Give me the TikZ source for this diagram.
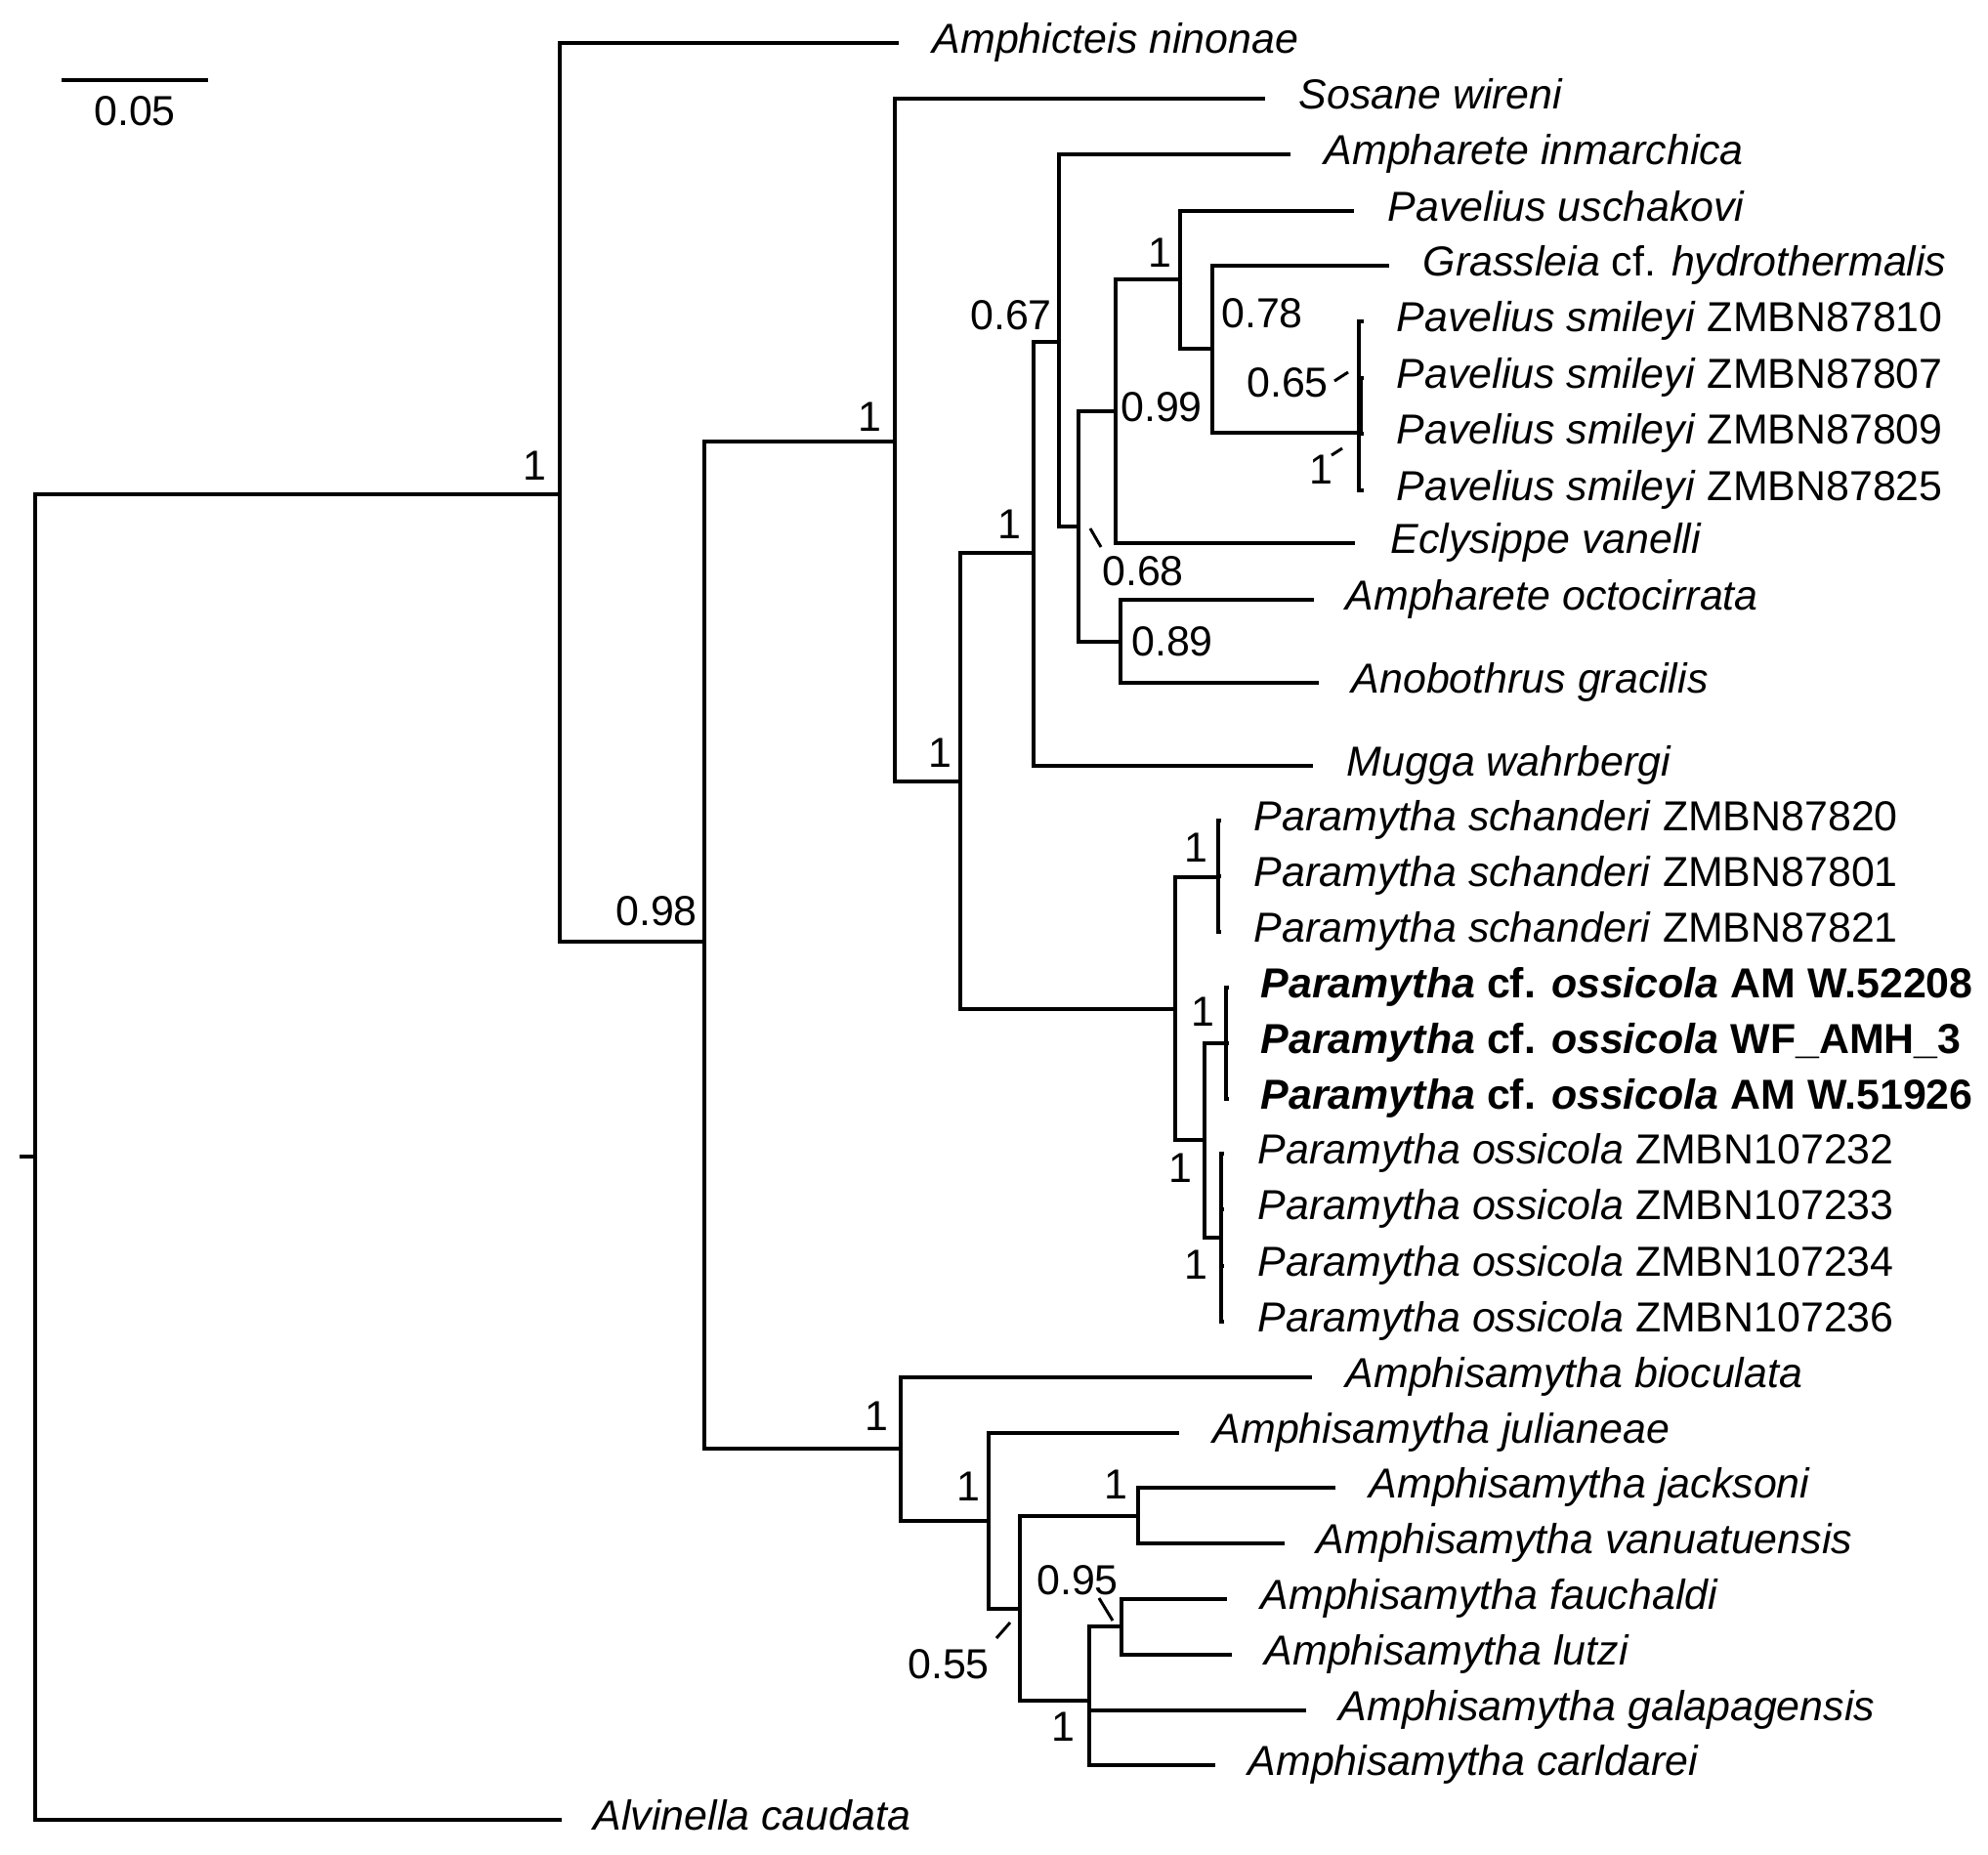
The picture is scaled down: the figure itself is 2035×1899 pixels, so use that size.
\documentclass[tikz,border=0pt]{standalone}
\usepackage{fontspec}
\setmainfont{Liberation Sans}
\usetikzlibrary{positioning,calc}
\tikzset{
  branch/.style={line width=0.9pt},
  taxon/.style={inner sep=0pt, font=\fontsize{12.2}{14}\selectfont,
    text height=8.7pt, text depth=2.6pt},
  supp/.style={inner sep=0pt, font=\fontsize{12.2}{14}\selectfont},
  tick/.style={line width=0.85pt}
}
\begin{document}
\begin{tikzpicture}[x=0.01cm, y=-0.01cm, node distance=3.4mm]
\useasboundingbox (0,0) rectangle (2035,1899);

% scale bar
\coordinate (sb1) at (63,82);
\coordinate (sb2) at (213,82);
\draw[branch] (sb1) -- (sb2);
\node[supp] (sbl) at (138,114) {0.05};

% internal nodes
\coordinate (stub) at (20,1184);
\coordinate (nR) at (36,1184);
\coordinate (A) at (573,506);
\coordinate (C) at (721,964);
\coordinate (B) at (916,452);
\coordinate (F) at (983,800);
\coordinate (E) at (1058,566);
\coordinate (D) at (1084,350);
\coordinate (G) at (1104,539);
\coordinate (H) at (1142,421);
\coordinate (I) at (1208,286);
\coordinate (J) at (1241,357);
\coordinate (K) at (1391,443);
\coordinate (L) at (1393,415);
\coordinate (X) at (1147,657);
\coordinate (M) at (1203,1033);
\coordinate (N) at (1247,898);
\coordinate (O) at (1233,1167);
\coordinate (P) at (1255,1068);
\coordinate (Q) at (1250,1267);
\coordinate (R) at (922,1483);
\coordinate (S) at (1012,1557);
\coordinate (T) at (1044,1647);
\coordinate (U) at (1165,1552);
\coordinate (V) at (1115,1741);
\coordinate (W) at (1148,1665);

% tips
\coordinate (tAmphic) at (920,44);
\coordinate (tSosane) at (1295,101);
\coordinate (tAmpInm) at (1321,158);
\coordinate (tPavUsc) at (1386,216);
\coordinate (tGrass) at (1422,272);
\coordinate (tSm1) at (1396,329);
\coordinate (tSm2) at (1396,387);
\coordinate (tSm3) at (1396,444);
\coordinate (tSm4) at (1396,502);
\coordinate (tEcly) at (1387,556);
\coordinate (tOcto) at (1345,614);
\coordinate (tAnob) at (1350,699);
\coordinate (tMugga) at (1344,784);
\coordinate (tSch1) at (1250,840);
\coordinate (tSch2) at (1250,897);
\coordinate (tSch3) at (1250,954);
\coordinate (tCf1) at (1258,1011);
\coordinate (tCf2) at (1258,1068);
\coordinate (tCf3) at (1258,1125);
\coordinate (tOss1) at (1253,1181);
\coordinate (tOss2) at (1253,1238);
\coordinate (tOss3) at (1253,1296);
\coordinate (tOss4) at (1253,1353);
\coordinate (tBio) at (1343,1410);
\coordinate (tJul) at (1207,1467);
\coordinate (tJack) at (1367,1523);
\coordinate (tVanu) at (1315,1580);
\coordinate (tFauch) at (1256,1637);
\coordinate (tLutzi) at (1261,1694);
\coordinate (tGalap) at (1337,1751);
\coordinate (tCarld) at (1244,1807);
\coordinate (tAlv) at (575,1863);

% branches
\draw[branch] (stub) -- (nR);
\draw[branch] (nR) |- (A) (nR) |- (tAlv);
\draw[branch] (A) |- (tAmphic) (A) |- (C);
\draw[branch] (C) |- (B) (C) |- (R);
\draw[branch] (B) |- (tSosane) (B) |- (F);
\draw[branch] (F) |- (E) (F) |- (M);
\draw[branch] (E) |- (D) (E) |- (tMugga);
\draw[branch] (D) |- (tAmpInm) (D) |- (G);
\draw[branch] (G) |- (H) (G) |- (X);
\draw[branch] (H) |- (I) (H) |- (tEcly);
\draw[branch] (I) |- (tPavUsc) (I) |- (J);
\draw[branch] (J) |- (tGrass) (J) |- (K);
\draw[branch] (K) |- (tSm1) (K) |- (tSm4);
\draw[branch] (L) |- (tSm2) (L) |- (tSm3);
\draw[branch] (X) |- (tOcto) (X) |- (tAnob);
\draw[branch] (M) |- (N) (M) |- (O);
\draw[branch] (N) |- (tSch1) (N) |- (tSch2) (N) |- (tSch3);
\draw[branch] (O) |- (P) (O) |- (Q);
\draw[branch] (P) |- (tCf1) (P) |- (tCf2) (P) |- (tCf3);
\draw[branch] (Q) |- (tOss1) (Q) |- (tOss2) (Q) |- (tOss3) (Q) |- (tOss4);
\draw[branch] (R) |- (tBio) (R) |- (S);
\draw[branch] (S) |- (tJul) (S) |- (T);
\draw[branch] (T) |- (U) (T) |- (V);
\draw[branch] (U) |- (tJack) (U) |- (tVanu);
\draw[branch] (V) |- (W) (V) |- (tGalap) (V) |- (tCarld);
\draw[branch] (W) |- (tFauch) (W) |- (tLutzi);

% taxon labels
\node[taxon, right=of tAmphic] (lAmphic) {\textit{Amphicteis ninonae}};
\node[taxon, right=of tSosane] (lSosane) {\textit{Sosane wireni}};
\node[taxon, right=of tAmpInm] (lAmpInm) {\textit{Ampharete inmarchica}};
\node[taxon, right=of tPavUsc] (lPavUsc) {\textit{Pavelius uschakovi}};
\node[taxon, right=of tGrass] (lGrass) {\textit{Grassleia} cf. \textit{hydrothermalis}};
\node[taxon, right=3.3mm of tSm1] (lSm1) {\textit{Pavelius smileyi} ZMBN87810};
\node[taxon, right=3.3mm of tSm2] (lSm2) {\textit{Pavelius smileyi} ZMBN87807};
\node[taxon, right=3.3mm of tSm3] (lSm3) {\textit{Pavelius smileyi} ZMBN87809};
\node[taxon, right=3.3mm of tSm4] (lSm4) {\textit{Pavelius smileyi} ZMBN87825};
\node[taxon, right=3.6mm of tEcly] (lEcly) {\textit{Eclysippe vanelli}};
\node[taxon, right=3.2mm of tOcto] (lOcto) {\textit{Ampharete octocirrata}};
\node[taxon, right=3.3mm of tAnob] (lAnob) {\textit{Anobothrus gracilis}};
\node[taxon, right=of tMugga] (lMugga) {\textit{Mugga wahrbergi}};
\node[taxon, right=3.3mm of tSch1] (lSch1) {\textit{Paramytha schanderi} ZMBN87820};
\node[taxon, right=3.3mm of tSch2] (lSch2) {\textit{Paramytha schanderi} ZMBN87801};
\node[taxon, right=3.3mm of tSch3] (lSch3) {\textit{Paramytha schanderi} ZMBN87821};
\node[taxon, right=3.2mm of tCf1] (lCf1) {\bfseries\textit{Paramytha} cf. \textit{ossicola} AM W.52208};
\node[taxon, right=3.2mm of tCf2] (lCf2) {\bfseries\textit{Paramytha} cf. \textit{ossicola} WF\_AMH\_3};
\node[taxon, right=3.2mm of tCf3] (lCf3) {\bfseries\textit{Paramytha} cf. \textit{ossicola} AM W.51926};
\node[taxon, right=of tOss1] (lOss1) {\textit{Paramytha ossicola} ZMBN107232};
\node[taxon, right=of tOss2] (lOss2) {\textit{Paramytha ossicola} ZMBN107233};
\node[taxon, right=of tOss3] (lOss3) {\textit{Paramytha ossicola} ZMBN107234};
\node[taxon, right=of tOss4] (lOss4) {\textit{Paramytha ossicola} ZMBN107236};
\node[taxon, right=of tBio] (lBio) {\textit{Amphisamytha bioculata}};
\node[taxon, right=of tJul] (lJul) {\textit{Amphisamytha julianeae}};
\node[taxon, right=of tJack] (lJack) {\textit{Amphisamytha jacksoni}};
\node[taxon, right=3.2mm of tVanu] (lVanu) {\textit{Amphisamytha vanuatuensis}};
\node[taxon, right=of tFauch] (lFauch) {\textit{Amphisamytha fauchaldi}};
\node[taxon, right=3.3mm of tLutzi] (lLutzi) {\textit{Amphisamytha lutzi}};
\node[taxon, right=3.3mm of tGalap] (lGalap) {\textit{Amphisamytha galapagensis}};
\node[taxon, right=3.3mm of tCarld] (lCarld) {\textit{Amphisamytha carldarei}};
\node[taxon, right=3.2mm of tAlv] (lAlv) {\textit{Alvinella caudata}};

% support values
\node[supp] (sA) at (547,477) {1};
\node[supp] (sC) at (672,933) {0.98};
\node[supp] (sB) at (890,427) {1};
\node[supp] (sD) at (1035,323) {0.67};
\node[supp] (sE) at (1033,537) {1};
\node[supp] (sF) at (962,771) {1};
\node[supp] (sG) at (1170,585) {0.68};
\node[supp] (sH) at (1189,417) {0.99};
\node[supp] (sI) at (1187,259) {1};
\node[supp] (sJ) at (1292,321) {0.78};
\node[supp] (sL) at (1318,392) {0.65};
\node[supp] (sK) at (1352,481) {1};
\node[supp] (sX) at (1200,657) {0.89};
\node[supp] (sN) at (1224,868) {1};
\node[supp] (sP) at (1231,1036) {1};
\node[supp] (sO) at (1208,1196) {1};
\node[supp] (sQ) at (1224,1295) {1};
\node[supp] (sR) at (897,1450) {1};
\node[supp] (sS) at (991,1522) {1};
\node[supp] (sT) at (971,1704) {0.55};
\node[supp] (sU) at (1142,1520) {1};
\node[supp] (sV) at (1088,1768) {1};
\node[supp] (sW) at (1103,1618) {0.95};

% pointer ticks
\draw[tick] ($(G)+(12,2)$) -- ($(G)+(23,21)$);
\draw[tick] ($(K)+(-25,-53)$) -- ($(K)+(-11,-62)$);
\draw[tick] ($(K)+(-28,23)$) -- ($(K)+(-17,16)$);
\draw[tick] ($(T)+(-24,30)$) -- ($(T)+(-10,14)$);
\draw[tick] ($(W)+(-23,-29)$) -- ($(W)+(-9,-6)$);
\end{tikzpicture}
\end{document}
